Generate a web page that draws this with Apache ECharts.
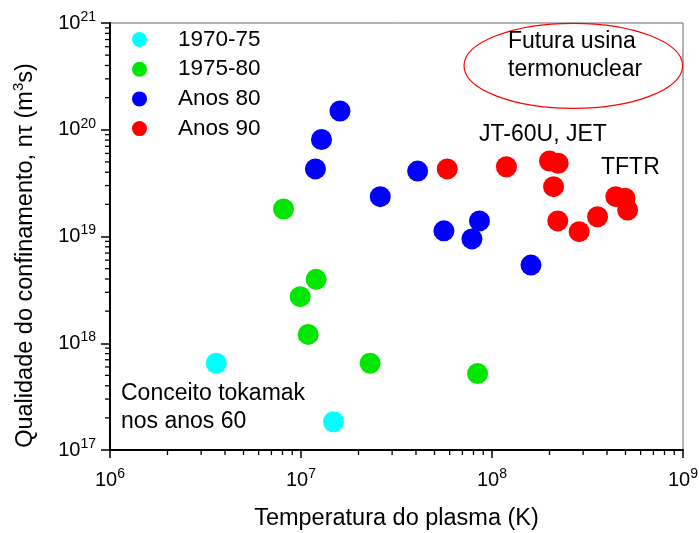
<!DOCTYPE html>
<html><head><meta charset="utf-8">
<script src="https://cdn.jsdelivr.net/npm/echarts@6/dist/echarts.min.js"></script>
<style>html,body{margin:0;padding:0;background:#fff}#c{width:699px;height:533px}</style>
</head><body><div id="c"></div>
<script>
// ---- data ----
const seriesNames = ['1970-75', '1975-80', 'Anos 80', 'Anos 90'];
const seriesColors = ['#00FFFF', '#00E600', '#0000FF', '#FF0000'];
const t7075 = [3.6e6, 1.48e7];
const q7075 = [6.5e17, 1.84e17];
const t7580 = [8.1e6, 1.2e7, 9.9e6, 1.09e7, 2.3e7, 8.4e7];
const q7580 = [1.81e19, 3.97e18, 2.73e18, 1.21e18, 6.5e17, 5.2e17];
const t80 = [1.6e7, 1.28e7, 1.19e7, 2.6e7, 4.08e7, 5.6e7, 7.85e7, 8.6e7, 1.6e8];
const q80 = [1.5e20, 8.1e19, 4.3e19, 2.36e19, 4.1e19, 1.13e19, 9.5e18, 1.4e19, 5.4e18];
const t90 = [5.83e7, 1.19e8, 2.0e8, 2.22e8, 2.1e8, 2.21e8, 2.86e8, 3.57e8, 4.45e8, 4.97e8, 5.13e8];
const q90 = [4.3e19, 4.5e19, 5.1e19, 4.85e19, 2.93e19, 1.4e19, 1.11e19, 1.53e19, 2.36e19, 2.28e19, 1.77e19];
const xDecades = [6, 7, 8, 9];
const yDecades = [17, 18, 19, 20, 21];
const minorMult = [2, 3, 4, 5, 6, 7, 8, 9];
// ----------------

const FONT = 'Liberation Sans, Arial, sans-serif';
const xs = [t7075, t7580, t80, t90];
const ys = [q7075, q7580, q80, q90];
const zip = (a, b) => a.map((v, i) => [v, b[i]]);

const minorData = [];
xDecades.slice(0, -1).forEach(d => minorMult.forEach(m => minorData.push([m * Math.pow(10, d), 1e17, 0])));
yDecades.slice(0, -1).forEach(d => minorMult.forEach(m => minorData.push([1e6, m * Math.pow(10, d), 1])));

const expFmt = v => '{b|10}{s|' + Math.round(Math.log10(v)) + '}';
const labelRich = {
  b: { fontSize: 20, fontFamily: FONT, color: '#000' },
  s: { fontSize: 14, fontFamily: FONT, color: '#000', padding: [0, 0, 12, 0] }
};

const chart = echarts.init(document.getElementById('c'), null, { renderer: 'canvas' });
const series = seriesNames.map((n, i) => ({
  name: n, type: 'scatter', symbol: 'circle', symbolSize: 21,
  itemStyle: { color: seriesColors[i], opacity: 1 },
  data: zip(xs[i], ys[i]), z: 3
}));
series.push({
  type: 'custom', silent: true, clip: false, z: 4,
  data: minorData,
  renderItem: (params, api) => {
    const p = api.coord([api.value(0), api.value(1)]);
    const kind = api.value(2);
    const shape = kind === 0
      ? { x1: p[0], y1: p[1], x2: p[0], y2: p[1] + 5 }
      : { x1: p[0], y1: p[1], x2: p[0] - 5, y2: p[1] };
    return { type: 'line', shape, style: { stroke: '#000', lineWidth: 1.3 } };
  }
});

const TS = 23;
chart.setOption({
  animation: false,
  backgroundColor: '#fff',
  grid: { left: 110, right: 16, top: 23, bottom: 83, show: true, borderColor: '#666', borderWidth: 1,
    containLabel: false, outerBoundsMode: 'none' },
  legend: {
    orient: 'vertical', left: 132, top: 28, padding: 0, itemWidth: 15, itemHeight: 15, itemGap: 6.7,
    data: seriesNames.map(n => ({ name: n, icon: 'circle' })),
    textStyle: { fontSize: 22.5, fontFamily: FONT, color: '#000', lineHeight: 22, padding: [0, 0, 0, 26] }
  },
  xAxis: {
    type: 'log', logBase: 10, min: 1e6, max: 1e9,
    name: 'Temperatura do plasma (K)', nameLocation: 'middle', nameGap: 57,
    nameTextStyle: { fontSize: 23.5, fontFamily: FONT, color: '#000' },
    axisLine: { lineStyle: { color: '#000', width: 2 } },
    axisTick: { inside: false, length: 8, lineStyle: { color: '#000', width: 1.5 } },
    axisLabel: { formatter: expFmt, rich: labelRich, margin: 17 },
    splitLine: { show: false }
  },
  yAxis: {
    type: 'log', logBase: 10, min: 1e17, max: 1e21,
    name: 'Qualidade do confinamento, nτ (m{s|3}s)', nameLocation: 'middle', nameGap: 70,
    nameTextStyle: { fontSize: 23.5, fontFamily: FONT, color: '#000', padding: [0, 38, 0, 0],
      rich: { s: { fontSize: 15, fontFamily: FONT, color: '#000', padding: [0, 0, 14, 0] } } },
    axisLine: { lineStyle: { color: '#000', width: 2 } },
    axisTick: { inside: false, length: 9, lineStyle: { color: '#000', width: 1.5 } },
    axisLabel: { formatter: expFmt, rich: labelRich, margin: 14 },
    splitLine: { show: false }
  },
  series,
  graphic: [
    { type: 'ellipse', shape: { cx: 573.3, cy: 65.8, rx: 109.3, ry: 42.5 },
      style: { fill: 'none', stroke: '#FF0000', lineWidth: 1.2 }, z: 10 },
    { type: 'text', left: 508, top: 30, style: { text: 'Futura usina', fontSize: TS, fontFamily: FONT, fill: '#000' }, z: 11 },
    { type: 'text', left: 508, top: 58, style: { text: 'termonuclear', fontSize: TS, fontFamily: FONT, fill: '#000' }, z: 11 },
    { type: 'text', left: 479, top: 123, style: { text: 'JT-60U, JET', fontSize: TS, fontFamily: FONT, fill: '#000' }, z: 11 },
    { type: 'text', left: 601, top: 156, style: { text: 'TFTR', fontSize: TS, fontFamily: FONT, fill: '#000' }, z: 11 },
    { type: 'text', left: 121, top: 382, style: { text: 'Conceito tokamak', fontSize: TS, fontFamily: FONT, fill: '#000' }, z: 11 },
    { type: 'text', left: 121, top: 410, style: { text: 'nos anos 60', fontSize: TS, fontFamily: FONT, fill: '#000' }, z: 11 }
  ]
});
</script></body></html>
